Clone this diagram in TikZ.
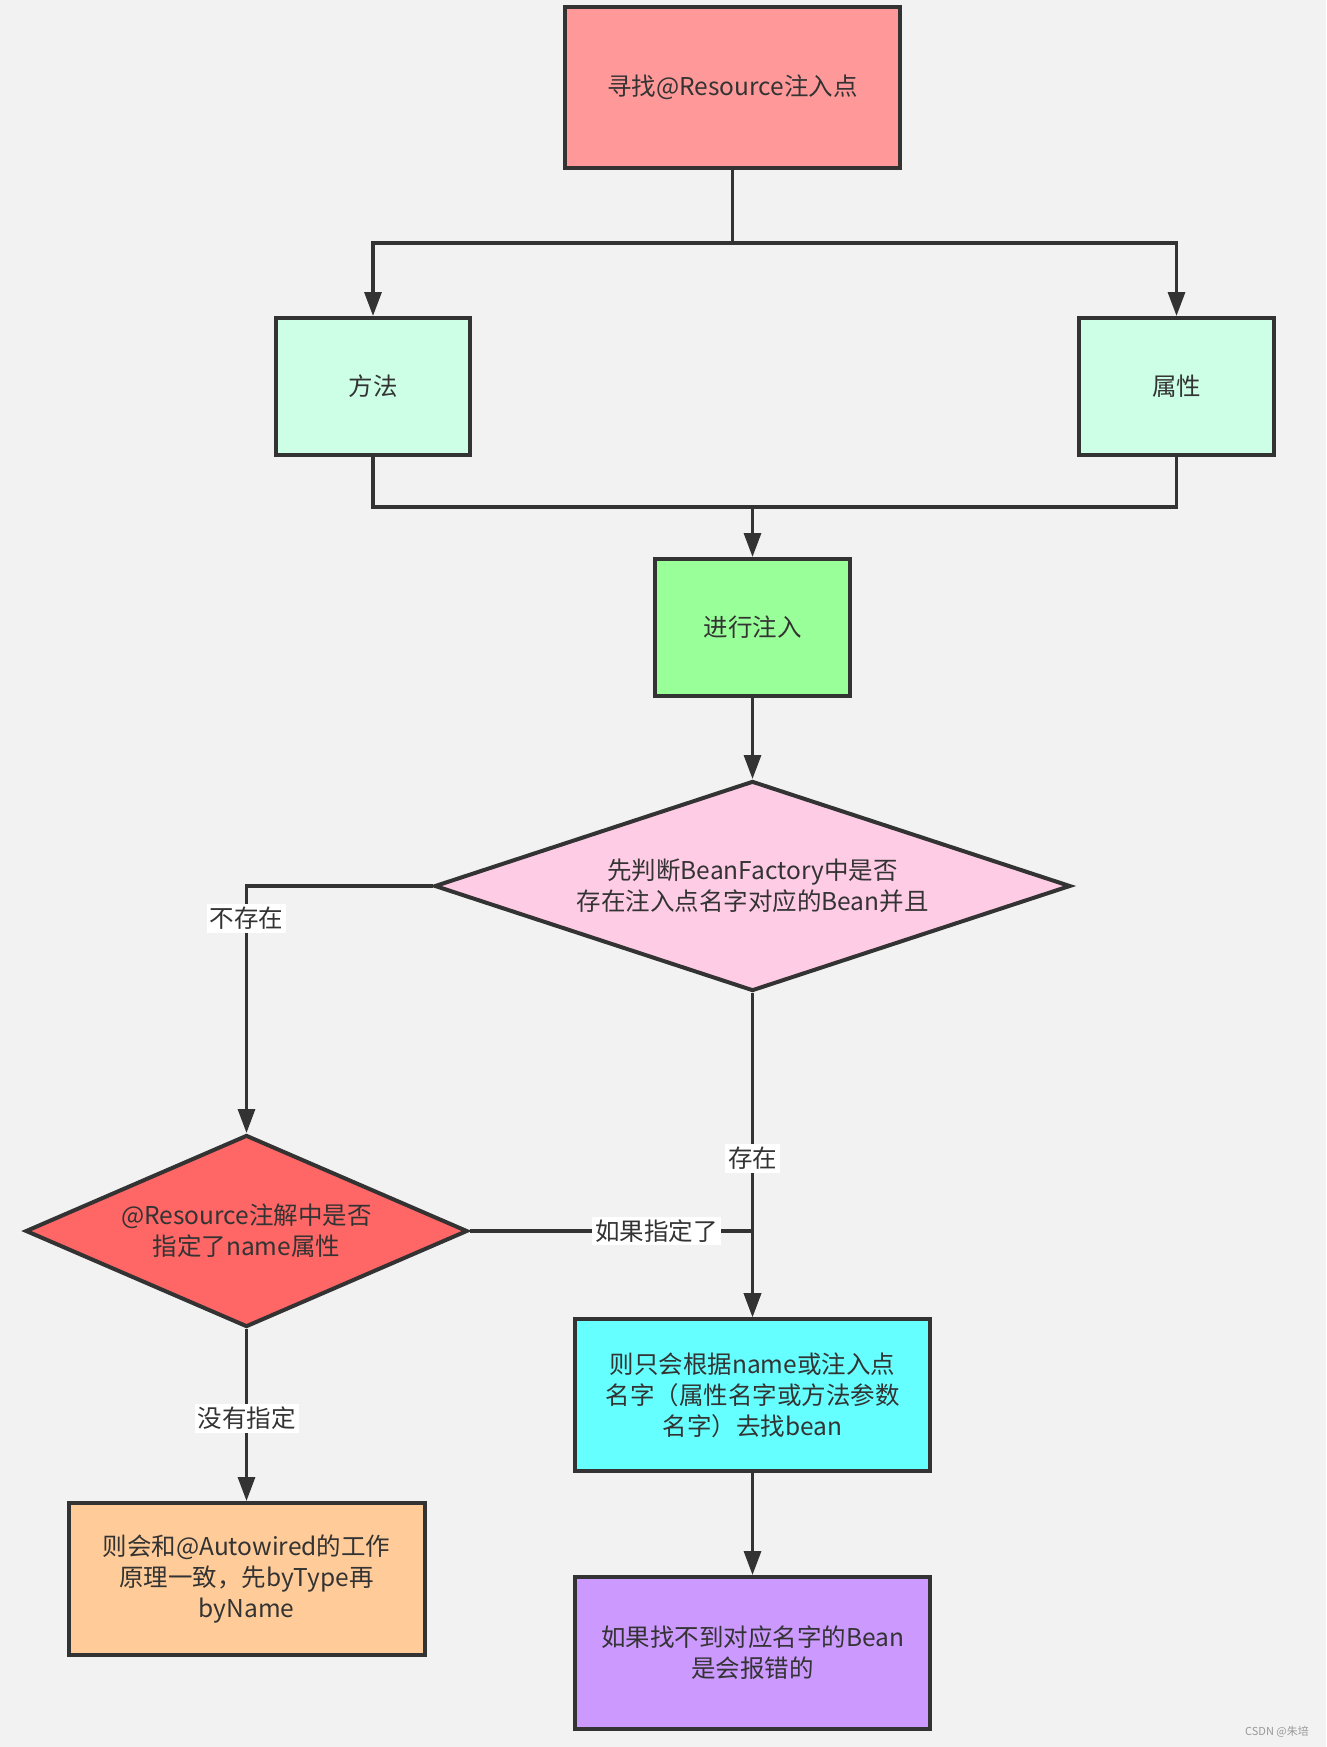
\documentclass[tikz,border=0pt]{standalone}
\usepackage{fontspec}
\setmainfont{Noto Sans CJK SC}
\usetikzlibrary{shapes.geometric,arrows.meta}
\definecolor{bg}{HTML}{F2F2F2}
\definecolor{ink}{HTML}{333333}
\definecolor{cTop}{HTML}{FF9999}
\definecolor{cMint}{HTML}{CCFFE6}
\definecolor{cGreen}{HTML}{99FF99}
\definecolor{cPink}{HTML}{FFCCE6}
\definecolor{cRed}{HTML}{FF6666}
\definecolor{cCyan}{HTML}{66FFFF}
\definecolor{cOrange}{HTML}{FFCC99}
\definecolor{cPurple}{HTML}{CC99FF}
\tikzset{
  txt/.style={font=\fontsize{24.5pt}{31pt}\selectfont, text=ink, align=center},
  box/.style={txt, draw=ink, line width=4pt, rectangle, inner sep=0pt},
  dia/.style={txt, draw=ink, line width=4pt, diamond, inner sep=0pt},
  conn/.style={draw=ink, line width=3.2pt},
  arr/.style={conn, -{Triangle[length=24pt,width=17pt]}},
  lbl/.style={txt, fill=white, inner xsep=3pt, inner ysep=3pt}
}
\begin{document}
\begin{tikzpicture}[x=1pt,y=-1pt]
\useasboundingbox (0,0) rectangle (1326,1747);
\fill[bg] (0,0) rectangle (1326,1747);

\node[box, fill=cTop, minimum width=335pt, minimum height=161pt] (top) at (732.5,87.5) {寻找@Resource注入点};
\node[box, fill=cMint, minimum width=194pt, minimum height=137pt] (ff) at (373,386.5) {方法};
\node[box, fill=cMint, minimum width=195pt, minimum height=137pt] (sx) at (1176.5,386.5) {属性};
\node[box, fill=cGreen, minimum width=195pt, minimum height=137pt] (inj) at (752.5,627.5) {进行注入};
\node[dia, fill=cPink, minimum width=636pt, minimum height=210pt, aspect=3] (d1) at (752.5,886) {先判断BeanFactory中是否\\存在注入点名字对应的Bean并且};
\node[dia, fill=cRed, minimum width=442pt, minimum height=192pt, aspect=2.3] (d2) at (246.5,1231) {@Resource注解中是否\\指定了name属性};
\node[box, fill=cCyan, minimum width=355pt, minimum height=152pt] (cy) at (752.5,1395) {则只会根据name或注入点\\名字（属性名字或方法参数\\名字）去找bean};
\node[box, fill=cOrange, minimum width=356pt, minimum height=152pt] (or) at (246.5,1579) {则会和@Autowired的工作\\原理一致，先byType再\\byName};
\node[box, fill=cPurple, minimum width=355pt, minimum height=152pt] (pu) at (752.5,1653) {如果找不到对应名字的Bean\\是会报错的};

\coordinate (j1) at (732.5,243);
\coordinate (j2) at (752.5,507);

\draw[conn] (top.south) -- (j1);
\draw[arr] (j1) -| (ff.north);
\draw[arr] (j1) -| (sx.north);
\draw[conn] (ff.south) |- (j2) -| (sx.south);
\draw[arr] (j2) -- (inj.north);
\draw[arr] (inj.south) -- (d1.north);
\draw[arr] (d1.west) -| node[lbl, pos=0.566] (l1) {不存在} (d2.north);
\draw[arr] (d1.south) -- node[lbl, pos=0.51] (l2) {存在} (cy.north);
\draw[arr] (d2.east) -| node[lbl, pos=0.33] (l3) {如果指定了} (cy.north);
\draw[arr] (d2.south) -- node[lbl, pos=0.52] (l4) {没有指定} (or.north);
\draw[arr] (cy.south) -- (pu.north);

\node[font=\fontsize{11pt}{13pt}\selectfont, text=gray!80] (wm) at (1277,1732) {CSDN @朱培};
\end{tikzpicture}
\end{document}
